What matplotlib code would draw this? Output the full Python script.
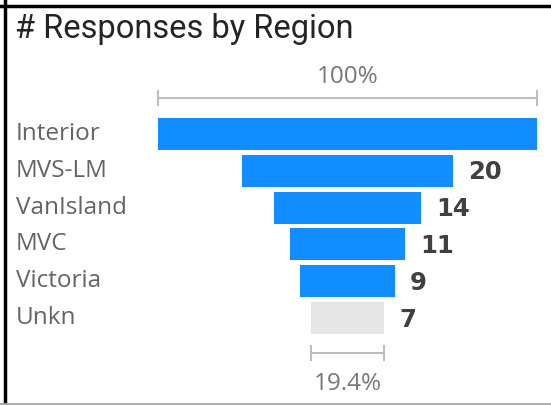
import matplotlib.pyplot as plt
from matplotlib import transforms

# responses per region, funnel order
regions = ["Interior", "MVS-LM", "VanIsland", "MVC", "Victoria", "Unkn"]
responses = [36, 20, 14, 11, 9, 7]
bar_colors = ["#118DFF"] * 5 + ["#E6E6E6"]

fig = plt.figure(figsize=(5.51, 4.05), dpi=100)
ax = fig.add_axes([0, 0, 1, 1])
ax.set_xlim(-33.0, 19.33)
ax.set_ylim(7.36, -3.64)
ax.axis("off")

lefts = [-v / 2 for v in responses]
ax.barh(range(len(regions)), responses, left=lefts, height=0.87,
        color=bar_colors)

# category names down the left edge
lab_tr = transforms.blended_transform_factory(fig.transFigure, ax.transData)
for i, name in enumerate(regions):
    ax.text(16 / 551, i, name, transform=lab_tr, ha="left", va="center",
            fontsize=17.5, color="#646464", family="Open Sans")

# values to the right of each bar (first one runs off the card)
for i, v in enumerate(responses):
    if i == 0:
        continue
    ax.text(v / 2 + 1.45, i + 0.04, str(v), ha="left", va="center",
            fontsize=17.5, fontweight="bold", color="#404040",
            family="DejaVu Sans")


def bracket(y, half, label, label_y):
    c = "#BDBDBD"
    ax.plot([-half, half], [y, y], color=c, lw=1.5, solid_capstyle="butt")
    for xe in (-half, half):
        ax.plot([xe, xe], [y - 0.18, y + 0.18], color=c, lw=1.5)
    ax.text(0, label_y, label, ha="center", va="center", fontsize=17.5,
            color="#777777", family="Open Sans")


first, last = responses[0], responses[-1]
bracket(-0.98, first / 2, "100%", -1.55)
bracket(5.95, last / 2, f"{last / first * 100:.1f}%", 6.78)

fig.text(15 / 551, 1 - 38 / 405, "# Responses by Region", ha="left",
         va="baseline", fontsize=23.5, color="#252423", family="Roboto")

# card frame: dark on top and left, light gray at the bottom
fig.add_artist(plt.Line2D([5 / 551, 5 / 551], [0, 1], color="black", lw=2.5,
                          transform=fig.transFigure))
fig.add_artist(plt.Line2D([0, 1], [1 - 6 / 405, 1 - 6 / 405], color="black",
                          lw=2.5, transform=fig.transFigure))
fig.add_artist(plt.Line2D([0, 1], [1.5 / 405, 1.5 / 405], color="#AAAAAA",
                          lw=2, transform=fig.transFigure))

fig.savefig("out.png", dpi=100)
